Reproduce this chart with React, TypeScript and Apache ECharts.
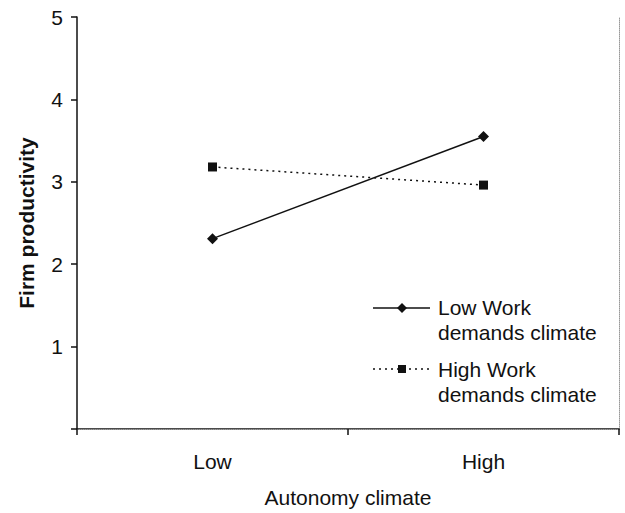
import React, { useEffect, useRef } from "react";
import * as echarts from "echarts";

const categories = ["Low", "High"];
const lowWorkDemands = [2.31, 3.55];
const highWorkDemands = [3.18, 2.96];
const seriesNames = ["Low Work\ndemands climate", "High Work\ndemands climate"];

const FONT = "'Liberation Sans', Arial, sans-serif";
const INK = "#111";

export default function App() {
  const ref = useRef<HTMLDivElement>(null);
  useEffect(() => {
    if (!ref.current) return;
    const chart = echarts.init(ref.current, null, { renderer: "svg" });
    chart.setOption({
      animation: false,
      backgroundColor: "#fff",
      textStyle: { fontFamily: FONT },
      grid: { left: 77, right: 6, top: 17, bottom: 76, containLabel: false },
      xAxis: [
        {
          type: "category",
          data: categories,
          boundaryGap: true,
          name: "Autonomy climate",
          nameLocation: "middle",
          nameGap: 58,
          nameTextStyle: { fontSize: 21, color: INK, fontFamily: FONT },
          axisLine: { lineStyle: { color: INK, width: 1.5 } },
          axisTick: { show: true, length: 6, lineStyle: { color: INK, width: 1.5 } },
          axisLabel: { fontSize: 21, color: INK, margin: 22, fontFamily: FONT },
          splitLine: { show: false },
        },
        {
          type: "category",
          data: categories,
          position: "top",
          axisLine: { lineStyle: { color: "#999", width: 1, type: "dotted" } },
          axisTick: { show: false },
          axisLabel: { show: false },
          splitLine: { show: false },
        },
      ],
      yAxis: [
        {
          type: "value",
          min: 0,
          max: 5,
          interval: 1,
          name: "Firm productivity",
          nameLocation: "middle",
          nameGap: 40,
          nameTextStyle: { fontSize: 21, fontWeight: "bold", color: INK, fontFamily: FONT },
          axisLine: { show: true, lineStyle: { color: INK, width: 1.5 } },
          axisTick: { show: true, length: 6, lineStyle: { color: INK, width: 1.5 } },
          axisLabel: {
            fontSize: 21,
            color: INK,
            margin: 14,
            fontFamily: FONT,
            formatter: (v: number) => (v === 0 ? "" : String(v)),
          },
          splitLine: { show: false },
        },
        {
          type: "value",
          min: 0,
          max: 5,
          interval: 1,
          position: "right",
          axisLine: { show: true, lineStyle: { color: "#999", width: 1, type: "dotted" } },
          axisTick: { show: false },
          axisLabel: { show: false },
          splitLine: { show: false },
        },
      ],
      series: [
        {
          name: seriesNames[0],
          type: "line",
          data: lowWorkDemands,
          symbol: "diamond",
          symbolSize: 11,
          itemStyle: { color: INK },
          lineStyle: { color: INK, width: 1.5, type: "solid" },
        },
        {
          name: seriesNames[1],
          type: "line",
          data: highWorkDemands,
          symbol: "rect",
          symbolSize: 9,
          itemStyle: { color: INK },
          lineStyle: { color: INK, width: 1.5, type: [2, 4] },
        },
      ],
      graphic: [
        { type: "line", shape: { x1: 373, y1: 308, x2: 430, y2: 308 }, style: { stroke: INK, lineWidth: 1.5 } },
        { type: "polygon", shape: { points: [[402, 303], [407, 308], [402, 313], [397, 308]] }, style: { fill: INK } },
        { type: "text", x: 438, y: 295, style: { text: "Low Work\ndemands climate", fontSize: 21, lineHeight: 25, fill: INK, fontFamily: FONT } },
        { type: "line", shape: { x1: 373, y1: 369, x2: 430, y2: 369 }, style: { stroke: INK, lineWidth: 1.5, lineDash: [2, 4] } },
        { type: "rect", shape: { x: 398, y: 365, width: 8, height: 8 }, style: { fill: INK } },
        { type: "text", x: 438, y: 357, style: { text: "High Work\ndemands climate", fontSize: 21, lineHeight: 25, fill: INK, fontFamily: FONT } },
      ],
    });
    return () => chart.dispose();
  }, []);
  return (
    <div
      ref={ref}
      style={{ position: "fixed", left: 0, top: 0, width: 625, height: 513, background: "#fff" }}
    />
  );
}
